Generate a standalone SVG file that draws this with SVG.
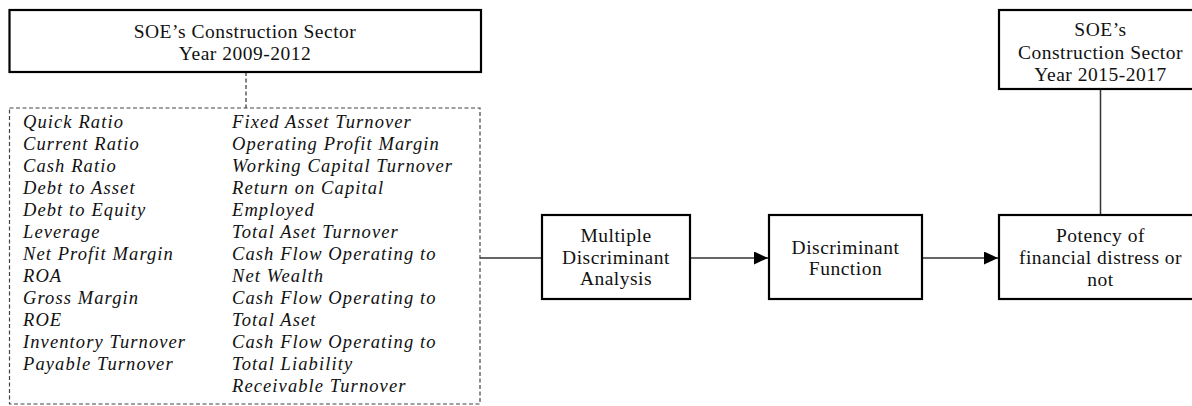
<svg xmlns="http://www.w3.org/2000/svg" width="1192" height="406" viewBox="0 0 1192 406">
<style>
.box{fill:#fff;stroke:#000;stroke-width:2.2}
.dbox{fill:none;stroke:#444;stroke-width:1.2;stroke-dasharray:4 2.5}
.t{font-family:"Liberation Serif","Times New Roman",serif;font-size:19.5px;letter-spacing:0.5px;fill:#111;text-anchor:middle}
.i{font-family:"Liberation Serif","Times New Roman",serif;font-size:18.5px;letter-spacing:1.1px;font-style:italic;fill:#111}
.c{fill:none;stroke:#333;stroke-width:1.5}
.dc{fill:none;stroke:#333;stroke-width:1.2;stroke-dasharray:4 2.5}
</style>
<defs>
<marker id="ah" markerWidth="14" markerHeight="13" refX="14" refY="6.5" orient="auto" markerUnits="userSpaceOnUse">
<path d="M0,0 L14,6.5 L0,13 Z" fill="#000"/>
</marker>
</defs>
<rect width="1192" height="406" fill="#fff"/>
<g id="connectors">
<path class="dc" d="M246,72 V108"/>
<path class="c" d="M480,258 H542"/>
<path class="c" d="M690,258 H768" marker-end="url(#ah)"/>
<path class="c" d="M922,258 H998" marker-end="url(#ah)"/>
<path class="c" d="M1100.5,89 V215"/>
</g>
<g id="soe2009">
<rect class="box" x="9.5" y="10" width="471.5" height="62"/>
<text class="t" x="245" y="38">SOE’s Construction Sector</text>
<text class="t" x="245" y="60">Year 2009-2012</text>
</g>
<g id="ratios">
<rect class="dbox" x="9.5" y="108" width="470.5" height="296"/>
<text class="i" x="23">
<tspan x="23" y="128">Quick Ratio</tspan>
<tspan x="23" y="150">Current Ratio</tspan>
<tspan x="23" y="172">Cash Ratio</tspan>
<tspan x="23" y="194">Debt to Asset</tspan>
<tspan x="23" y="216">Debt to Equity</tspan>
<tspan x="23" y="238">Leverage</tspan>
<tspan x="23" y="260">Net Profit Margin</tspan>
<tspan x="23" y="282">ROA</tspan>
<tspan x="23" y="304">Gross Margin</tspan>
<tspan x="23" y="326">ROE</tspan>
<tspan x="23" y="348">Inventory Turnover</tspan>
<tspan x="23" y="370">Payable Turnover</tspan>
</text>
<text class="i" x="232">
<tspan x="232" y="128">Fixed Asset Turnover</tspan>
<tspan x="232" y="150">Operating Profit Margin</tspan>
<tspan x="232" y="172">Working Capital Turnover</tspan>
<tspan x="232" y="194">Return on Capital</tspan>
<tspan x="232" y="216">Employed</tspan>
<tspan x="232" y="238">Total Aset Turnover</tspan>
<tspan x="232" y="260">Cash Flow Operating to</tspan>
<tspan x="232" y="282">Net Wealth</tspan>
<tspan x="232" y="304">Cash Flow Operating to</tspan>
<tspan x="232" y="326">Total Aset</tspan>
<tspan x="232" y="348">Cash Flow Operating to</tspan>
<tspan x="232" y="370">Total Liability</tspan>
<tspan x="232" y="392">Receivable Turnover</tspan>
</text>
</g>
<g id="mda">
<rect class="box" x="542" y="215" width="148" height="84"/>
<text class="t" x="616" y="242">Multiple</text>
<text class="t" x="616" y="263.5">Discriminant</text>
<text class="t" x="616" y="285">Analysis</text>
</g>
<g id="function">
<rect class="box" x="769" y="215" width="153" height="84"/>
<text class="t" x="845.5" y="253.5">Discriminant</text>
<text class="t" x="845.5" y="275">Function</text>
</g>
<g id="potency">
<rect class="box" x="999" y="215" width="203" height="84"/>
<text class="t" x="1100.5" y="242">Potency of</text>
<text class="t" x="1100.5" y="264">financial distress or</text>
<text class="t" x="1100.5" y="286">not</text>
</g>
<g id="soe2015">
<rect class="box" x="999" y="10" width="203" height="79"/>
<text class="t" x="1100.5" y="36">SOE’s</text>
<text class="t" x="1100.5" y="58.5">Construction Sector</text>
<text class="t" x="1100.5" y="81">Year 2015-2017</text>
</g>
</svg>
